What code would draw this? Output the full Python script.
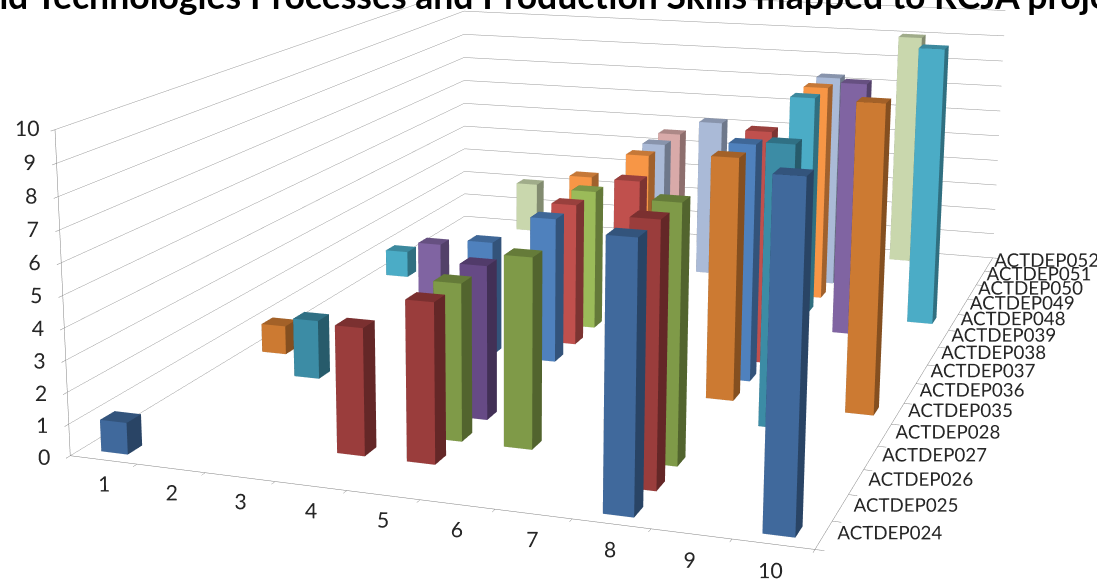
import numpy as np, plotly.graph_objects as go

categories = ['1','2','3','4','5','6','7','8','9','10']
series_names = ['ACTDEP024','ACTDEP025','ACTDEP026','ACTDEP027','ACTDEP028','ACTDEP035','ACTDEP036','ACTDEP037',
                'ACTDEP038','ACTDEP039','ACTDEP048','ACTDEP049','ACTDEP050','ACTDEP051','ACTDEP052']
s024 = [1,None,None,None,None,None,None,8,None,10]
s025 = [None,None,None,4,5,None,None,8,None,None]
s026 = [None,None,None,None,5,6,None,8,None,None]
s027 = [None,None,None,None,5,None,None,None,None,None]
s028 = [None,2,None,None,None,None,None,None,9,None]
s035 = [1,None,None,None,None,None,None,8,None,10]
s036 = [None,None,None,4,5,None,None,8,None,None]
s037 = [None,None,None,None,5,6,None,8,None,None]
s038 = [None,None,None,None,5,None,None,None,None,None]
s039 = [None,2,None,None,None,None,None,None,9,None]
s048 = [1,None,None,None,None,None,None,8,None,10]
s049 = [None,None,None,4,5,None,None,8,None,None]
s050 = [None,None,None,None,5,6,None,8,None,None]
s051 = [None,None,None,None,5,None,None,None,None,None]
s052 = [None,2,None,None,None,None,None,None,9,None]
series_values = [s024,s025,s026,s027,s028,s035,s036,s037,s038,s039,s048,s049,s050,s051,s052]
series_colors = ['#40699C','#9A3D3C','#7F9A48','#664A85','#3C8CA5','#CC7A32','#4F81BD','#C0504D','#9BBB59',
                 '#8064A2','#4BACC6','#F79646','#AABAD7','#D9AAA9','#C9D7AD']
z_ticks = [0,1,2,3,4,5,6,7,8,9,10]
TITLE = 'and Technologies Processes and Production Skills mapped to RCJA project'

# camera solved from the reference's vanishing geometry
SW, SH, LEFT, TOP = 1308, 1898, -211, -710     # scene size and where it sits relative to the window
PADX, PADY = 40, 8                             # room for the displaced label scene
WIDTH, HEIGHT = SW+2*PADX, SH+2*PADY
AZ, EL, ROLL = 0.3664, 0.2358, -0.0066
EYE_W = np.array([3.4065,-5.7275,2.2426])
ASPECT = np.array([2.267,3.417,1.0])
UNIT = ASPECT/np.array([10,15,10])
BAR = 0.4
YOFF = (38,-6)                                 # screen offset of the series labels
LX0,LZ0,LZ1 = -0.2,-0.45,10.3                  # larger box that stands the category/value labels off the axes

fw = np.array([-np.sin(AZ)*np.cos(EL), np.cos(AZ)*np.cos(EL), -np.sin(EL)])
rt = np.cross(fw,[0,0,1]); rt /= np.linalg.norm(rt)
up0 = np.cross(rt,fw)
upv = -np.sin(ROLL)*rt + np.cos(ROLL)*up0
dist = np.linalg.norm(EYE_W-ASPECT/2)

def cam(box_center):
    e = EYE_W-box_center
    c = EYE_W+fw*dist-box_center
    return dict(eye=dict(x=e[0],y=e[1],z=e[2]),center=dict(x=c[0],y=c[1],z=c[2]),
                up=dict(x=upv[0],y=upv[1],z=upv[2]),projection=dict(type='perspective'))

def shade(c,k):
    r,g,b = int(c[1:3],16),int(c[3:5],16),int(c[5:7],16)
    return 'rgb(%d,%d,%d)'%(r*k,g*k,b*k)

fig = go.Figure()
for si,(name,vals,col) in enumerate(zip(series_names,series_values,series_colors)):
    X,Y,Z,I,J,K,FC = [],[],[],[],[],[],[]
    for ci,v in enumerate(vals):
        if v is None: continue
        n = len(X)
        x0,x1 = ci+0.5-BAR/2, ci+0.5+BAR/2
        y0,y1 = si+0.5-BAR/2, si+0.5+BAR/2
        X += [x0,x1,x1,x0,x0,x1,x1,x0]
        Y += [y0,y0,y1,y1,y0,y0,y1,y1]
        Z += [0,0,0,0,v,v,v,v]
        quads = [((0,1,5,4),1.0),((1,2,6,5),0.65),((4,5,6,7),0.8),((3,2,6,7),0.65),((0,3,7,4),0.65),((0,1,2,3),0.65)]
        for q,k in quads:
            for tri in ((q[0],q[1],q[2]),(q[0],q[2],q[3])):
                I.append(n+tri[0]); J.append(n+tri[1]); K.append(n+tri[2]); FC.append(shade(col,k))
    fig.add_trace(go.Mesh3d(x=X,y=Y,z=Z,i=I,j=J,k=K,facecolor=FC,flatshading=True,name=name,hoverinfo='skip',
        lighting=dict(ambient=1,diffuse=0,specular=0,fresnel=0,roughness=1)))
for sc in ('scene2','scene3'):
    fig.add_trace(go.Scatter3d(x=[5],y=[5],z=[5],mode='markers',marker=dict(size=1,opacity=0),scene=sc,hoverinfo='skip'))

FONT = dict(family='Lato, Open Sans, sans-serif',size=16,color='#262626')
YFONT = dict(family='Lato, Open Sans, sans-serif',size=15,color='#262626')
LINE='#808080'
hidden = dict(showgrid=False,zeroline=False,showspikes=False,showbackground=False,title=dict(text=''))
off = dict(showticklabels=False,ticks='',showline=False,**hidden)
def dom(dx=0,dy=0):
    return dict(x=[(PADX+dx)/WIDTH,(PADX+dx+SW)/WIDTH],y=[(PADY-dy)/HEIGHT,(PADY-dy+SH)/HEIGHT])
common = dict(aspectmode='manual',dragmode=False,bgcolor='rgba(0,0,0,0)')
asp = dict(x=ASPECT[0],y=ASPECT[1],z=ASPECT[2])
# scene 1: bars, grid, axis lines and tick marks
xa = dict(range=[0,10],tickmode='array',tickvals=list(range(11)),showticklabels=False,ticks='outside',ticklen=6,tickcolor=LINE,
          showline=True,linecolor=LINE,linewidth=1,**hidden)
ya = dict(range=[0,15],tickmode='array',tickvals=list(range(16)),showticklabels=False,ticks='outside',ticklen=6,tickcolor=LINE,
          showline=True,linecolor=LINE,linewidth=1,**hidden)
za = dict(range=[0,10],tickmode='array',tickvals=z_ticks,showticklabels=False,ticks='outside',ticklen=6,tickcolor=LINE,
          showgrid=True,gridcolor='#989898',gridwidth=1,zeroline=False,showspikes=False,showbackground=False,
          title=dict(text=''),showline=True,linecolor=LINE,linewidth=1)
# scene 2: category and value labels in a slightly larger box
xc = dict(range=[LX0,10],tickmode='array',tickvals=[i*0.985+0.69 for i in range(10)],ticktext=categories,tickangle=0,
          ticks='',tickfont=FONT,showline=False,**hidden)
yc = dict(range=[0,15],**off)
zc = dict(range=[LZ0,LZ1],tickmode='array',tickvals=[v+0.15 for v in z_ticks],ticktext=[str(v) for v in z_ticks],tickangle=0,
          ticks='',tickfont=FONT,showline=False,**hidden)
lo = np.array([LX0,0,LZ0]); hi = np.array([10,15,LZ1])
asp2 = (hi-lo)*UNIT; ctr2 = (hi+lo)/2*UNIT
# scene 3: series labels, displaced on screen
xd = dict(range=[0,10],**off)
yd = dict(range=[0,15],tickmode='array',tickvals=[i+0.5 for i in range(15)],ticktext=series_names,tickangle=0,
          ticks='',tickfont=YFONT,showline=False,**hidden)
zd = dict(range=[0,10],**off)
fig.update_layout(width=WIDTH,height=HEIGHT,margin=dict(l=0,r=0,t=0,b=0),paper_bgcolor='white',showlegend=False,
    scene=dict(xaxis=xa,yaxis=ya,zaxis=za,aspectratio=asp,camera=cam(ASPECT/2),domain=dom(),**common),
    scene2=dict(xaxis=xc,yaxis=yc,zaxis=zc,aspectratio=dict(x=asp2[0],y=asp2[1],z=asp2[2]),camera=cam(ctr2),domain=dom(),**common),
    scene3=dict(xaxis=xd,yaxis=yd,zaxis=zd,aspectratio=asp,camera=cam(ASPECT/2),domain=dom(*YOFF),**common),
    annotations=[dict(text='<b>'+TITLE+'</b>',xref='paper',yref='paper',x=(-32-LEFT+PADX)/WIDTH,y=1-(19-TOP+PADY)/HEIGHT,
        xanchor='left',yanchor='bottom',showarrow=False,font=dict(family='Lato, sans-serif',size=35.6,color='black'))])
post = ("var g=document.getElementById('{plot_id}');g.style.position='absolute';g.style.left='%dpx';g.style.top='%dpx';"
        "document.documentElement.style.overflow='hidden';document.body.style.overflow='hidden';")%(LEFT-PADX,TOP-PADY)
fig.write_html('out.html',post_script=post)
